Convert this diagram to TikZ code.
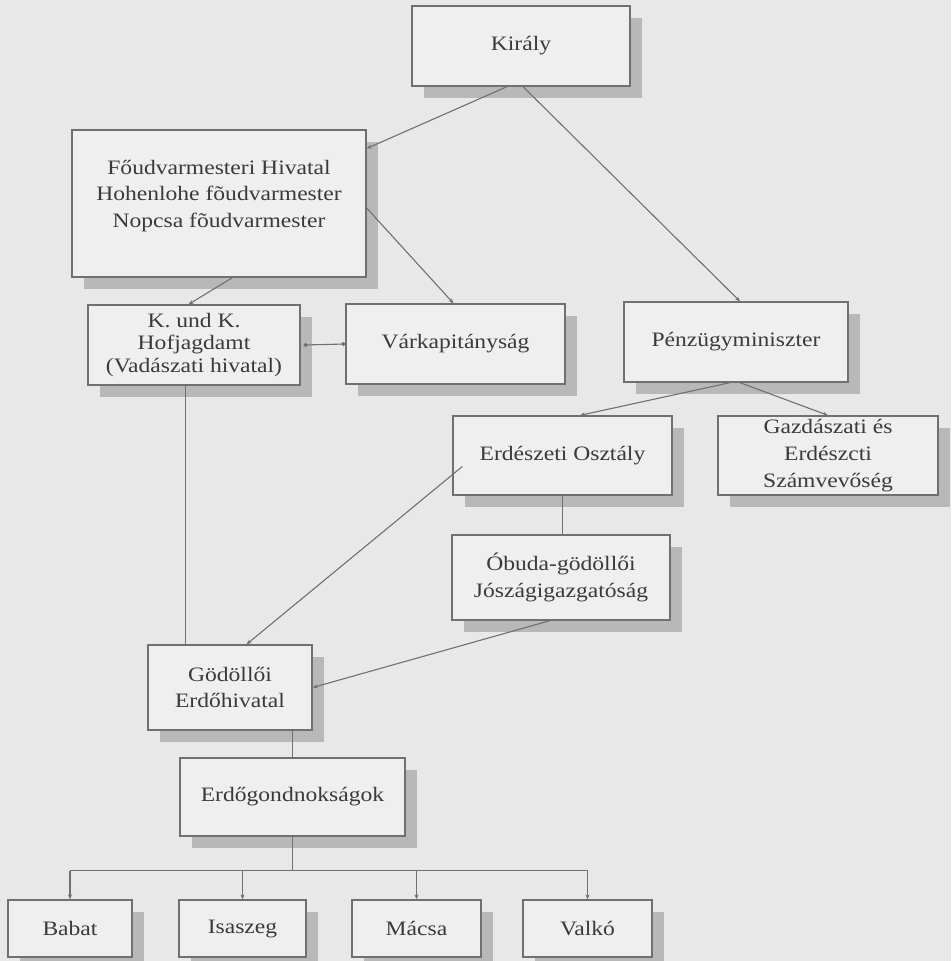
\documentclass[tikz,border=0pt]{standalone}
\usepackage{fontspec}
\setmainfont{Liberation Serif}[FakeStretch=1.15]
\usetikzlibrary{arrows.meta,shadows,calc}
\definecolor{bgc}{HTML}{E8E8E8}
\definecolor{boxc}{HTML}{EFEFEF}
\definecolor{linec}{HTML}{707070}
\definecolor{txtc}{HTML}{3A3A3A}
\definecolor{shc}{HTML}{B8B8B8}
\begin{document}
\begin{tikzpicture}[x=1pt,y=-1pt,
  orgbox/.style={draw=linec, line width=1.3pt, fill=boxc, text=txtc, align=center,
    inner sep=0pt, font=\fontsize{20.5}{26.7}\selectfont,
    drop shadow={shadow xshift=12pt, shadow yshift=-12pt, fill=shc, opacity=1}},
  plaintext/.style={text=txtc, align=center, inner sep=0pt, font=\fontsize{20.5}{26.7}\selectfont},
  conn/.style={draw=linec, line width=1.1pt},
  arr/.style={conn, -{Stealth[length=5pt,width=4pt]}},
  dotted ends/.style={conn, {Circle[length=4pt]}-{Circle[length=4pt]}}
]
\path[use as bounding box, fill=bgc] (0,0) rectangle (951,961);
\clip (0,0) rectangle (951,961);

\node[orgbox, minimum width=218pt, minimum height=80pt] (kir) at (521,46) {Király};
\node[orgbox, minimum width=294pt, minimum height=147pt] (fo) at (219,203.5) {};
\node[plaintext] (fot) at (219,196) {Főudvarmesteri Hivatal\\Hohenlohe fõudvarmester\\Nopcsa fõudvarmester};
\node[orgbox, minimum width=212pt, minimum height=80pt, font=\fontsize{20.5}{22.5}\selectfont] (kk) at (194,345) {K. und K.\\Hofjagdamt\\(Vadászati hivatal)};
\node[orgbox, minimum width=219pt, minimum height=80pt] (var) at (455.5,344) {Várkapitányság};
\node[orgbox, minimum width=224pt, minimum height=80pt] (pz) at (736,342) {Pénzügyminiszter};
\node[orgbox, minimum width=219pt, minimum height=79pt] (er) at (562.5,455.5) {Erdészeti Osztály};
\node[orgbox, minimum width=220pt, minimum height=79pt] (gz) at (828,455.5) {Gazdászati és\\Erdészcti\\Számvevőség};
\node[orgbox, minimum width=218pt, minimum height=85pt] (ob) at (561,577.5) {Óbuda-gödöllői\\Jószágigazgatóság};
\node[orgbox, minimum width=164pt, minimum height=85pt] (go) at (230,687.5) {Gödöllői\\Erdőhivatal};
\node[orgbox, minimum width=225pt, minimum height=78pt] (eg) at (292.5,797) {Erdőgondnokságok};
\node[orgbox, minimum width=124pt, minimum height=57pt] (ba) at (70,928.5) {Babat};
\node[orgbox, minimum width=127pt, minimum height=57pt] (is) at (242.5,928.5) {Isaszeg};
\node[orgbox, minimum width=129pt, minimum height=57pt] (ma) at (416.5,928.5) {Mácsa};
\node[orgbox, minimum width=129pt, minimum height=57pt] (va) at (587.5,928.5) {Valkó};

\draw[arr] ([xshift=-14pt]kir.south) -- ([yshift=55pt]fo.east);
\draw[arr] ([xshift=2pt]kir.south) -- ([xshift=4pt]pz.north);
\draw[arr] ([yshift=-4.5pt]fo.east) -- ([xshift=-2pt]var.north);
\draw[arr] ([xshift=13.5pt]fo.south) -- ([xshift=-5.5pt]kk.north);
\draw[dotted ends] ([xshift=3pt]kk.east) -- (var.west);
\draw[arr] ([xshift=-6pt]pz.south) -- ([xshift=17.5pt]er.north);
\draw[arr] ([xshift=4pt]pz.south) -- (gz.north);
\draw[arr] ([xshift=10pt,yshift=-11pt]er.west) -- ([xshift=16.5pt]go.north);
\draw[conn] (er.south) -- (er.south |- ob.north);
\coordinate (kkd) at ([xshift=-8.5pt]kk.south);
\draw[conn] (kkd) -- (kkd |- go.north);
\draw[arr] ([xshift=-11pt]ob.south) -- (go.east);
\draw[conn] (eg.north |- go.south) -- (eg.north);
\coordinate (bus) at ($(eg.south)+(0,34)$);
\draw[conn] (eg.south) -- (bus);
\draw[conn] (ba.north |- bus) -- (va.north |- bus);
\foreach \b in {ba,is,ma,va}{
  \draw[arr] (\b.north |- bus) -- (\b.north);
}
\end{tikzpicture}
\end{document}
